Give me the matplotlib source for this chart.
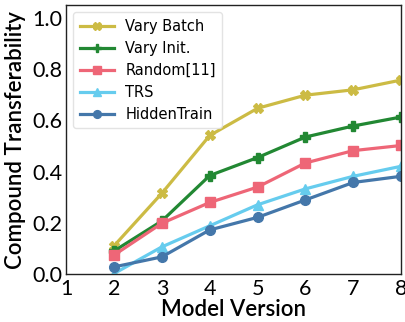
import matplotlib
matplotlib.use('Agg')
import matplotlib.pyplot as plt

versions = [2, 3, 4, 5, 6, 7, 8]
vary_batch = [0.111, 0.316, 0.541, 0.647, 0.698, 0.719, 0.757]
vary_init = [0.091, 0.208, 0.385, 0.455, 0.535, 0.578, 0.613]
random11 = [0.075, 0.199, 0.280, 0.340, 0.434, 0.482, 0.502]
trs = [0.003, 0.107, 0.189, 0.271, 0.333, 0.382, 0.421]
hidden = [0.029, 0.068, 0.173, 0.222, 0.290, 0.358, 0.382]

fig, ax = plt.subplots(figsize=(4.06, 3.22), dpi=100)
ax.plot(versions, vary_batch, marker='X', color='#CCBB44', lw=2.3, ms=7, label='Vary Batch')
ax.plot(versions, vary_init, marker='P', color='#228833', lw=2.3, ms=7, label='Vary Init.')
ax.plot(versions, random11, marker='s', color='#EE6677', lw=2.3, ms=7, label='Random[11]')
ax.plot(versions, trs, marker='^', color='#66CCEE', lw=2.3, ms=7, label='TRS')
ax.plot(versions, hidden, marker='o', color='#4477AA', lw=2.3, ms=7, label='HiddenTrain')

ax.set_xlim(1, 8)
ax.set_ylim(0, 1.05)
ax.set_xticks(range(1, 9))
ax.set_yticks([0, 0.2, 0.4, 0.6, 0.8, 1.0])
ax.set_yticklabels(['0.0', '0.2', '0.4', '0.6', '0.8', '1.0'])
for lab in ax.get_xticklabels() + ax.get_yticklabels():
    lab.set_family('Lato')
    lab.set_fontsize(15.5)
ax.tick_params(length=0, pad=3)
ax.set_xlabel('Model Version', family='Lato', fontweight='semibold', fontsize=16, labelpad=0)
ax.set_ylabel('Compound Transferability', family='Lato', fontweight='semibold', fontsize=16, labelpad=4)
for s in ax.spines.values():
    s.set_linewidth(1.0)
    s.set_color('#222222')
leg = ax.legend(loc='upper left', fontsize=10.5, frameon=True, fancybox=True, handlelength=2.3,
                borderpad=0.45, labelspacing=0.48, markerscale=0.8)
leg.get_frame().set_edgecolor('#dddddd')
fig.subplots_adjust(left=0.163, right=0.988, top=0.985, bottom=0.148)
fig.savefig('out.png', dpi=100)
